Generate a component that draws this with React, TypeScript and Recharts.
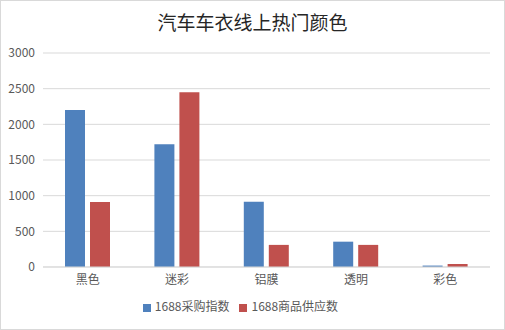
import { BarChart, Bar, XAxis, YAxis, CartesianGrid, Legend } from 'recharts'

const categories = ['黑色', '迷彩', '铝膜', '透明', '彩色']
const purchaseIndex = [2200, 1720, 915, 355, 20]
const supplyCount = [910, 2450, 310, 310, 42]
const yTicks = [0, 500, 1000, 1500, 2000, 2500, 3000]

const data = categories.map((name, i) => ({
  name,
  purchase: purchaseIndex[i],
  supply: supplyCount[i],
}))

const font = "'Noto Sans CJK SC', 'Noto Sans', sans-serif"

export default function App() {
  return (
    <div
      style={{
        position: 'absolute',
        left: 0,
        top: 0,
        width: 505,
        height: 330,
        boxSizing: 'border-box',
        border: '1px solid #d9d9d9',
        background: '#fff',
        fontFamily: font,
      }}
    >
      <div
        style={{
          position: 'absolute',
          top: 7,
          left: 0,
          width: 503,
          textAlign: 'center',
          fontSize: 19,
          color: '#262626',
        }}
      >
        汽车车衣线上热门颜色
      </div>

      <BarChart
        width={503}
        height={328}
        data={data}
        margin={{ top: 52, right: 14, bottom: 15, left: 0 }}
        barSize={20}
        barGap={5}
      >
        <CartesianGrid vertical={false} stroke="#d9d9d9" />
        <XAxis
          dataKey="name"
          axisLine={{ stroke: '#d9d9d9' }}
          tickLine={false}
          tick={{ fill: '#595959', fontSize: 12, fontFamily: font }}
          height={30}
        />
        <YAxis
          domain={[0, 3000]}
          ticks={yTicks}
          axisLine={false}
          tickLine={false}
          width={42}
          tick={{ fill: '#595959', fontSize: 12, fontFamily: font }}
        />
        <Legend
          iconType="square"
          iconSize={8}
          itemSorter="dataKey"
          wrapperStyle={{ fontSize: 12, color: '#595959', fontFamily: font }}
          formatter={(value: any) => (
            <span style={{ color: '#595959' }}>{value}</span>
          )}
        />
        <Bar
          dataKey="purchase"
          name="1688采购指数"
          fill="#4f81bd"
          isAnimationActive={false}
        />
        <Bar
          dataKey="supply"
          name="1688商品供应数"
          fill="#c0504d"
          isAnimationActive={false}
        />
      </BarChart>
    </div>
  )
}
